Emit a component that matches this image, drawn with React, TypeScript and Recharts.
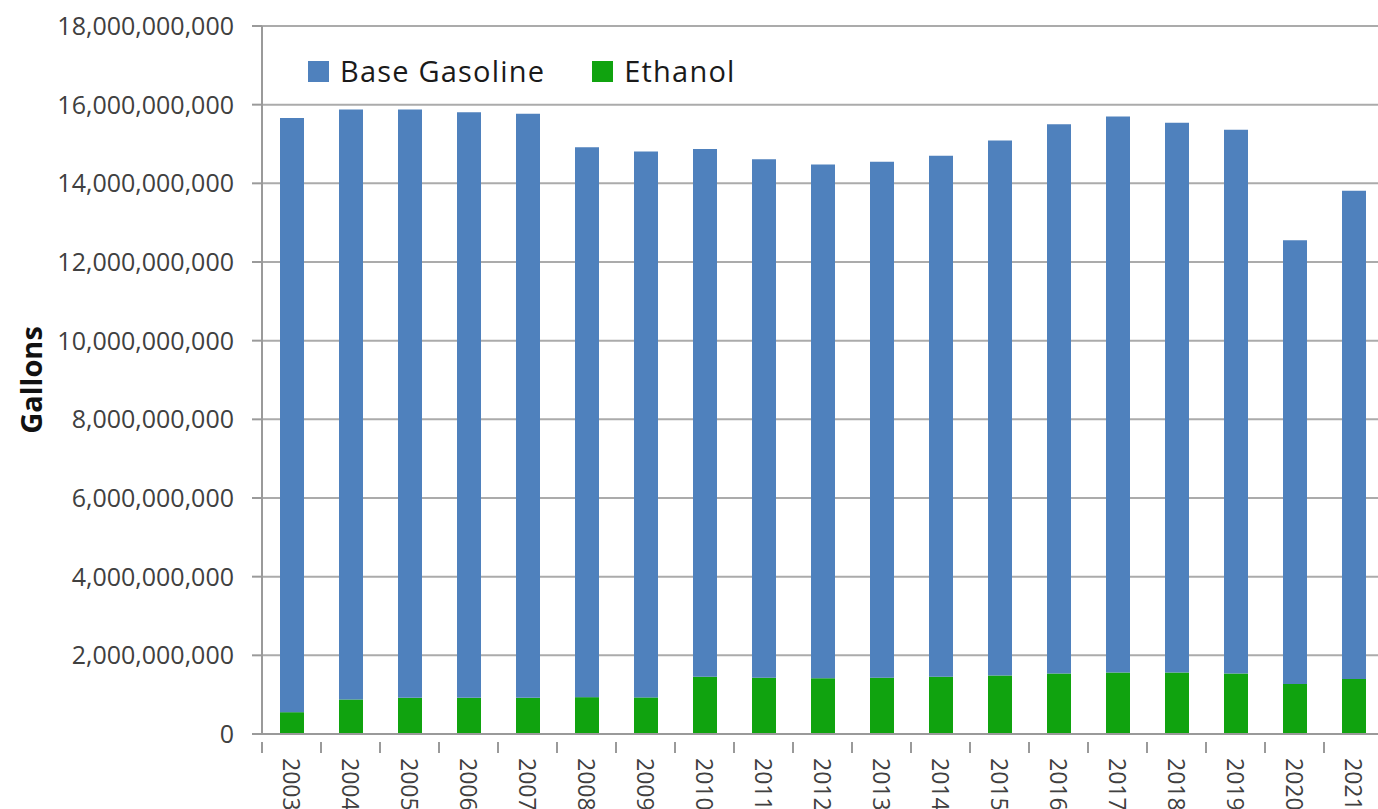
import { BarChart, Bar, XAxis, YAxis, CartesianGrid, Legend } from 'recharts'

// values in gallons
const YEARS = ['2003', '2004', '2005', '2006', '2007', '2008', '2009', '2010', '2011', '2012',
  '2013', '2014', '2015', '2016', '2017', '2018', '2019', '2020', '2021']
const ETHANOL = [555e6, 878e6, 920e6, 920e6, 920e6, 937e6, 930e6, 1455e6, 1430e6, 1420e6,
  1430e6, 1455e6, 1490e6, 1540e6, 1565e6, 1565e6, 1540e6, 1270e6, 1400e6]
const BASE_GASOLINE = [15105e6, 15000e6, 14960e6, 14890e6, 14850e6, 13980e6, 13880e6, 13415e6, 13180e6, 13060e6,
  13120e6, 13245e6, 13600e6, 13960e6, 14135e6, 13975e6, 13820e6, 11280e6, 12410e6]
const Y_TICKS = [0, 2e9, 4e9, 6e9, 8e9, 10e9, 12e9, 14e9, 16e9, 18e9]

const BLUE = '#4F81BD'
const GREEN = '#10A30F'
const FONT = '"Open Sans", sans-serif'

const CHART_W = 1383
const CHART_H = 809
const Y_AXIS_W = 262
const BAND = (CHART_W - Y_AXIS_W) / YEARS.length

const data = YEARS.map((year, i) => ({ year, ethanol: ETHANOL[i], base: BASE_GASOLINE[i] }))

function YearTick(props: any) {
  const { x, y, payload } = props
  return (
    <g transform={`translate(${x},${y})`}>
      <line x1={-BAND / 2} x2={-BAND / 2} y1={0} y2={11} stroke="#9a9a9a" strokeWidth={2} />
      <text
        transform="rotate(90)"
        x={16}
        y={0}
        dominantBaseline="central"
        textAnchor="start"
        fill="#404040"
        fontSize={23}
        fontFamily={FONT}
      >{payload.value}</text>
    </g>
  )
}

function LegendBox() {
  const items = [
    { label: 'Base Gasoline', color: BLUE },
    { label: 'Ethanol', color: GREEN },
  ]
  return (
    <div style={{ display: 'flex', alignItems: 'center', fontFamily: FONT, fontSize: 29, letterSpacing: 1.2, color: '#1a1a1a', lineHeight: '30px' }}>
      {items.map((it, i) => (
        <div key={it.label} style={{ display: 'flex', alignItems: 'center', marginRight: i === 0 ? 47 : 0 }}>
          <span style={{ display: 'inline-block', width: 21, height: 21, background: it.color, marginRight: 11 }} />
          <span>{it.label}</span>
        </div>
      ))}
    </div>
  )
}

function GallonsLabel(props: any) {
  const { viewBox } = props
  const cy = viewBox.y + viewBox.height / 2
  return (
    <text
      x={30}
      y={cy}
      transform={`rotate(-90, 30, ${cy})`}
      textAnchor="middle"
      dominantBaseline="central"
      fontFamily={FONT}
      fontWeight="bold"
      fontSize={29}
      fill="#111"
    >Gallons</text>
  )
}

export default function App() {
  return (
    <div style={{ position: 'absolute', left: 0, top: 0, width: 1378, height: 809, overflow: 'hidden', background: '#fff' }}>
      <BarChart width={CHART_W} height={CHART_H} data={data} margin={{ top: 26, right: 0, left: 0, bottom: 0 }}>
        <CartesianGrid vertical={false} stroke="#ababab" strokeWidth={2} />
        <XAxis
          dataKey="year"
          height={75}
          interval={0}
          tickLine={false}
          axisLine={{ stroke: '#9a9a9a', strokeWidth: 2 }}
          tick={<YearTick />}
        />
        <YAxis
          width={Y_AXIS_W}
          domain={[0, 18e9]}
          ticks={Y_TICKS}
          tickFormatter={v => Number(v).toLocaleString('en-US')}
          tick={{ fontSize: 25, fill: '#404040', fontFamily: FONT }}
          tickSize={10}
          tickMargin={18}
          tickLine={{ stroke: '#9a9a9a', strokeWidth: 2 }}
          axisLine={{ stroke: '#9a9a9a', strokeWidth: 2 }}
          label={<GallonsLabel />}
        />
        <Legend
          layout="horizontal"
          verticalAlign="middle"
          align="center"
          content={<LegendBox />}
          wrapperStyle={{ top: 56, left: 308, width: 'auto' }}
        />
        <Bar dataKey="ethanol" name="Ethanol" stackId="a" fill={GREEN} barSize={24} isAnimationActive={false} />
        <Bar dataKey="base" name="Base Gasoline" stackId="a" fill={BLUE} barSize={24} isAnimationActive={false} />
      </BarChart>
    </div>
  )
}
